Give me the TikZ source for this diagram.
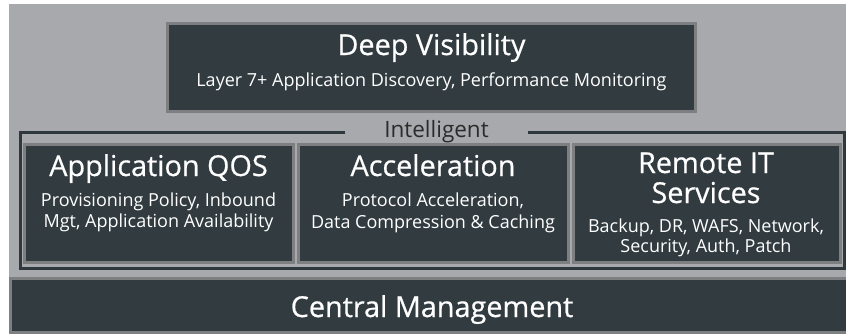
\documentclass[tikz,border=0pt]{standalone}
\usepackage{fontspec}
\setmainfont{Open Sans}
\newfontfamily\titlefont[FakeBold=0.6]{Open Sans}
\definecolor{bg}{HTML}{A8A9AC}
\definecolor{panel}{HTML}{313B40}
\definecolor{edge}{HTML}{7E7F80}
\definecolor{ink}{HTML}{2B2B2B}
\definecolor{frameline}{HTML}{2F383D}
\begin{document}
\begin{tikzpicture}[x=1pt,y=-1pt,
  panelbox/.style={draw=edge, fill=panel, line width=3pt, inner sep=0pt},
  ttl/.style={text=white, anchor=base, inner sep=0pt, font=\titlefont\fontsize{28.8}{30}\selectfont},
  sub/.style={text=white, anchor=base, inner sep=0pt, font=\fontsize{18}{20}\selectfont},
  lbl/.style={text=ink, anchor=base, inner sep=0pt, font=\fontsize{22.5}{24}\selectfont},
  frame/.style={draw=frameline, line width=3pt}
  ]
\useasboundingbox (0,0) rectangle (846,333);
\fill[white] (0,0) rectangle (846,333);
\fill[bg] (9,4) rectangle (846,333);
\begin{scope}
\clip (0,0) rectangle (846,333);
% Deep Visibility
\node[panelbox, minimum width=528pt, minimum height=87.5pt] (dv) at (431.5,67.25) {};
\node[ttl] (dvt) at (431.5,55) {Deep Visibility};
\node[sub] (dvs) at (431.5,86) {Layer 7+ Application Discovery, Performance Monitoring};
% Intelligent frame
\coordinate (fl) at (345,132.5);
\coordinate (fr) at (528,132.5);
\coordinate (fbl) at (20.5,268.5);
\coordinate (fbr) at (844.75,268.5);
\draw[frame] (fl) -| (fbl) -| (fr -| fbr) -- (fr);
\node[lbl] (int) at (436.5,137) {Intelligent};
% three boxes
\node[panelbox, minimum width=268.5pt, minimum height=118pt] (b1) at (158.75,203.5) {};
\node[panelbox, minimum width=269.5pt, minimum height=118pt] (b2) at (433.25,203.5) {};
\node[panelbox, minimum width=267.5pt, minimum height=118pt] (b3) at (706.75,203.5) {};
\node[ttl] (b1t) at (158.5,176) {Application QOS};
\node[sub] (b1s1) at (158.5,206) {Provisioning Policy, Inbound};
\node[sub] (b1s2) at (158.5,227) {Mgt, Application Availability};
\node[ttl] (b2t) at (433,176) {Acceleration};
\node[sub] (b2s1) at (433,206) {Protocol Acceleration,};
\node[sub] (b2s2) at (433,228) {Data Compression \& Caching};
\node[ttl] (b3t1) at (706,173) {Remote IT};
\node[ttl] (b3t2) at (706,203) {Services};
\node[sub] (b3s1) at (706,232) {Backup, DR, WAFS, Network,};
\node[sub] (b3s2) at (706,252) {Security, Auth, Patch};
% Central management
\node[panelbox, minimum width=838pt, minimum height=53.5pt] (cm) at (429.5,305.25) {};
\node[ttl] (cmt) at (432,317) {Central Management};
\end{scope}
\end{tikzpicture}
\end{document}
